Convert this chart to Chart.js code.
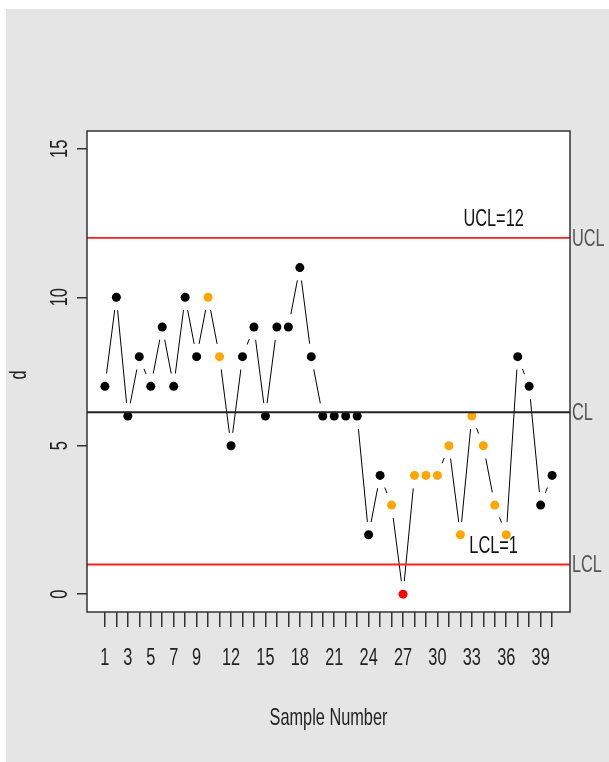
<!DOCTYPE html>
<html>
<head>
<meta charset="utf-8">
<script src="https://cdn.jsdelivr.net/npm/chart.js@4.4.1/dist/chart.umd.min.js"></script>
<style>
  html, body { margin: 0; padding: 0; background: #fff; }
  #wrap { width: 609px; height: 762px; }
</style>
</head>
<body>
<div id="wrap"><canvas id="qcc"></canvas></div>
<script>
// np-chart data
const samples = Array.from({ length: 40 }, (_, i) => i + 1);
const defects = [7, 10, 6, 8, 7, 9, 7, 10, 8, 10,
                 8, 5, 8, 9, 6, 9, 9, 11, 8, 6,
                 6, 6, 6, 2, 4, 3, 0, 4, 4, 4,
                 5, 2, 6, 5, 3, 2, 8, 7, 3, 4];
const runPoints = [10, 11, 26, 28, 29, 30, 31, 32, 33, 34, 35, 36]; // violating runs
const outPoints = [27];                                            // beyond limits
const center = 6.125;
const ucl = 12;
const lcl = 1;
const xTickLabels = [1, 3, 5, 7, 9, 12, 15, 18, 21, 24, 27, 30, 33, 36, 39];
const yTicks = [0, 5, 10, 15];
const xRange = [-0.56, 41.56];
const yRange = [-0.6, 15.6];

const FONT = '24px "Liberation Sans", Arial, sans-serif';
const SQUEEZE = 0.68; // R device text is narrow

const pointColors = samples.map(s =>
  outPoints.includes(s) ? '#ff0000' : runPoints.includes(s) ? '#ffa500' : '#000000');

function text(c, str, x, y, align, baseline, color, rot) {
  c.save();
  c.translate(x, y);
  if (rot) c.rotate(rot);
  c.scale(SQUEEZE, 1);
  c.font = FONT;
  c.fillStyle = color;
  c.textAlign = align;
  c.textBaseline = baseline;
  c.fillText(str, 0, 0);
  c.restore();
}

// R style frame, background, gapped lines and labels
const qccDecor = {
  id: 'qccDecor',
  beforeDraw(chart) {
    const c = chart.ctx;
    c.save();
    c.fillStyle = '#e5e5e5';
    c.fillRect(6, 9, chart.width - 6, chart.height - 9);
    const a = chart.chartArea;
    c.fillStyle = '#ffffff';
    c.fillRect(a.left, a.top, a.right - a.left, a.bottom - a.top);
    c.restore();
  },
  beforeDatasetsDraw(chart) {
    // type="b" lines: segments stop short of each point
    const c = chart.ctx;
    const pts = chart.getDatasetMeta(3).data;
    const gap = 13;
    c.save();
    c.strokeStyle = '#000';
    c.lineWidth = 1;
    for (let i = 0; i < pts.length - 1; i++) {
      const p = pts[i], q = pts[i + 1];
      const dx = q.x - p.x, dy = q.y - p.y;
      const len = Math.hypot(dx, dy);
      if (len <= 2 * gap) continue;
      const ux = dx / len, uy = dy / len;
      c.beginPath();
      c.moveTo(p.x + ux * gap, p.y + uy * gap);
      c.lineTo(q.x - ux * gap, q.y - uy * gap);
      c.stroke();
    }
    c.restore();
  },
  afterDraw(chart) {
    const c = chart.ctx;
    const a = chart.chartArea;
    const xs = chart.scales.x, ys = chart.scales.y;
    c.save();
    c.strokeStyle = '#333';
    c.lineWidth = 1.5;
    c.strokeRect(a.left, a.top, a.right - a.left, a.bottom - a.top);
    c.restore();

    yTicks.forEach(v => text(c, String(v), 60, ys.getPixelForValue(v), 'center', 'middle', '#222', -Math.PI / 2));
    xTickLabels.forEach(v => text(c, String(v), xs.getPixelForValue(v), 658, 'center', 'middle', '#222'));
    text(c, 'Sample Number', (a.left + a.right) / 2, 718, 'center', 'middle', '#222');
    text(c, 'd', 19, 375, 'center', 'middle', '#222', -Math.PI / 2);

    // limit names on the right margin
    [['UCL', ucl], ['CL', center], ['LCL', lcl]].forEach(([t, v]) =>
      text(c, t, a.right + 2, ys.getPixelForValue(v) + 1, 'left', 'middle', '#555'));

    // limit values inside the plot
    text(c, 'UCL=' + ucl, xs.getPixelForValue(34.9), ys.getPixelForValue(ucl) - 12, 'center', 'alphabetic', '#111');
    text(c, 'LCL=' + lcl, xs.getPixelForValue(34.9), ys.getPixelForValue(lcl) - 11, 'center', 'alphabetic', '#111');
  }
};

const hline = (y, color, w) => ({
  type: 'line',
  data: [{ x: xRange[0], y }, { x: xRange[1], y }],
  borderColor: color,
  borderWidth: w,
  pointRadius: 0,
  fill: false
});

new Chart(document.getElementById('qcc'), {
  type: 'scatter',
  data: {
    datasets: [
      hline(ucl, '#ff2020', 1.8),
      hline(lcl, '#ff2020', 1.8),
      hline(center, '#222', 2),
      {
        type: 'scatter',
        data: samples.map((s, i) => ({ x: s, y: defects[i] })),
        pointRadius: 4.5,
        pointBorderWidth: 0,
        pointBackgroundColor: pointColors,
        showLine: false
      }
    ]
  },
  options: {
    responsive: true,
    maintainAspectRatio: false,
    animation: false,
    events: [],
    layout: { padding: { left: 0, top: 131, right: 39, bottom: 0 } },
    plugins: { legend: { display: false }, tooltip: { enabled: false } },
    scales: {
      x: {
        type: 'linear',
        min: xRange[0],
        max: xRange[1],
        afterBuildTicks: s => { s.ticks = samples.map(v => ({ value: v })); },
        afterFit: s => { s.height = 150; },
        border: { display: false },
        grid: { drawOnChartArea: false, drawTicks: true, tickLength: 15, color: '#333', lineWidth: 1.5 },
        ticks: { autoSkip: false, maxRotation: 0, callback: () => '' }
      },
      y: {
        type: 'linear',
        min: yRange[0],
        max: yRange[1],
        afterBuildTicks: s => { s.ticks = yTicks.map(v => ({ value: v })); },
        afterFit: s => { s.width = 87; },
        border: { display: false },
        grid: { drawOnChartArea: false, drawTicks: true, tickLength: 10, color: '#333', lineWidth: 1.5 },
        ticks: { callback: () => '', padding: 0 }
      }
    }
  },
  plugins: [qccDecor]
});
</script>
</body>
</html>
